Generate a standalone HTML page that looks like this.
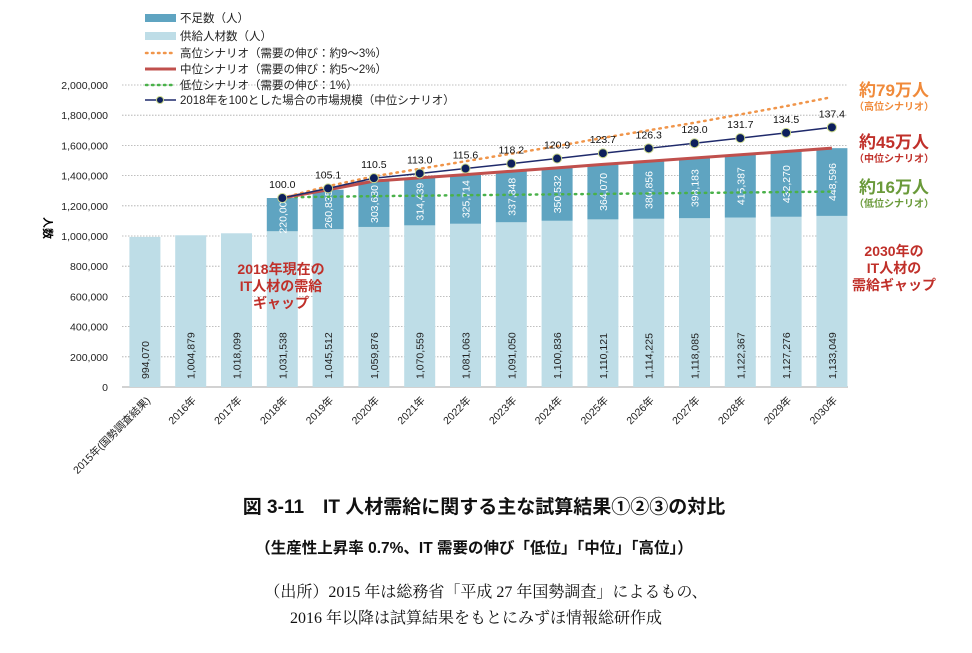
<!DOCTYPE html>
<html><head><meta charset="utf-8"><style>
body{margin:0;background:#fff;}
svg text{font-family:"Liberation Sans","Noto Sans CJK JP",sans-serif;}
</style></head><body>
<svg id="c" width="972" height="648" viewBox="0 0 972 648" xmlns="http://www.w3.org/2000/svg">
<g id="grid"></g><g id="bars"></g><g id="lines"></g><g id="axis"></g>
<g font-size="11.5" fill="#222">
<rect x="145" y="14" width="31" height="8" fill="#5fa4c1"/><text x="180" y="22">不足数（人）</text>
<rect x="145" y="32" width="31" height="8" fill="#bedde7"/><text x="180" y="40">供給人材数（人）</text>
<line x1="146" y1="53" x2="176" y2="53" stroke="#f0954a" stroke-width="2.5" stroke-dasharray="1.5 4.5" stroke-linecap="round"/><text x="180" y="57">高位シナリオ（需要の伸び：約9～3%）</text>
<line x1="145" y1="69" x2="176" y2="69" stroke="#c0504d" stroke-width="3"/><text x="180" y="73">中位シナリオ（需要の伸び：約5～2%）</text>
<line x1="146" y1="85" x2="176" y2="85" stroke="#4ab14a" stroke-width="2.5" stroke-dasharray="1.5 4.5" stroke-linecap="round"/><text x="180" y="89">低位シナリオ（需要の伸び：1%）</text>
<line x1="145" y1="100" x2="176" y2="100" stroke="#1f2a6b" stroke-width="1.5"/><circle cx="160" cy="100" r="3.5" fill="#0d1f5c" stroke="#c8d68a"/><text x="180" y="104">2018年を100とした場合の市場規模（中位シナリオ）</text>
</g>
<text x="44" y="228" font-size="11" font-weight="bold" text-anchor="middle" transform="rotate(90 44 228)">人数</text>
<g font-weight="bold" text-anchor="middle">
<text x="894" y="96" font-size="17" fill="#f08a3a">約79万人</text>
<text x="894" y="110" font-size="10" fill="#f08a3a">（高位シナリオ）</text>
<text x="894" y="148" font-size="17" fill="#c0302a">約45万人</text>
<text x="894" y="162" font-size="10" fill="#c0302a">（中位シナリオ）</text>
<text x="894" y="193" font-size="17" fill="#6a9a3a">約16万人</text>
<text x="894" y="207" font-size="10" fill="#6a9a3a">（低位シナリオ）</text>
<text x="894" y="256" font-size="14" fill="#c0302a">2030年の</text>
<text x="894" y="273" font-size="14" fill="#c0302a">IT人材の</text>
<text x="894" y="290" font-size="14" fill="#c0302a">需給ギャップ</text>
<text x="281" y="274" font-size="14" fill="#c0302a">2018年現在の</text>
<text x="281" y="291" font-size="14" fill="#c0302a">IT人材の需給</text>
<text x="281" y="308" font-size="14" fill="#c0302a">ギャップ</text>
</g>
<g text-anchor="middle" fill="#111">
<text x="484" y="513" font-size="19" font-weight="bold">図 3-11　IT 人材需給に関する主な試算結果①②③の対比</text>
<text x="474" y="553" font-size="15.5" font-weight="bold">（生産性上昇率 0.7%、IT 需要の伸び「低位」「中位」「高位」）</text>
<text x="486" y="597" font-size="16" style="font-family:'Liberation Serif','Noto Serif CJK SC',serif">（出所）2015 年は総務省「平成 27 年国勢調査」によるもの、</text>
<text x="476" y="623" font-size="16" style="font-family:'Liberation Serif','Noto Serif CJK SC',serif">2016 年以降は試算結果をもとにみずほ情報総研作成</text>
</g>
</svg>
<script>
const categories=["2015年(国勢調査結果)","2016年","2017年","2018年","2019年","2020年","2021年","2022年","2023年","2024年","2025年","2026年","2027年","2028年","2029年","2030年"];
const supply=[994070,1004879,1018099,1031538,1045512,1059876,1070559,1081063,1091050,1100836,1110121,1114225,1118085,1122367,1127276,1133049];
const shortage=[null,null,null,220000,260835,303680,314439,325714,337848,350532,364070,380856,398183,415387,432270,448596];
const marketIndex=[null,null,null,100.0,105.1,110.5,113.0,115.6,118.2,120.9,123.7,126.3,129.0,131.7,134.5,137.4];
const highDemand=[null,null,null,1251538,1330000,1395000,1445000,1495000,1545000,1595000,1650000,1700000,1750000,1805000,1860000,1920000];
const lowDemand=[null,null,null,1256000,1260000,1264000,1267000,1270000,1273000,1276000,1279000,1282000,1285000,1288000,1291000,1294000];
const yTicks=[0,200000,400000,600000,800000,1000000,1200000,1400000,1600000,1800000,2000000];
const NS="http://www.w3.org/2000/svg";
const X0=122,STEP=45.8,Y0=387,YH=302,YMAX=2000000,BW=31;
const xc=i=>X0+STEP/2+i*STEP;
const y=v=>Y0-v/YMAX*YH;
const fmt=v=>v.toLocaleString('en-US');
const G=id=>document.getElementById(id);
yTicks.forEach(t=>{
 const l=document.createElementNS(NS,'line');
 
 
 l.setAttribute('x1',X0);l.setAttribute('x2',848);l.setAttribute('y1',y(t));l.setAttribute('y2',y(t));
 l.setAttribute('stroke',t===0?'#888':'#aaa');if(t!==0)l.setAttribute('stroke-dasharray','1.5 1.5');l.setAttribute('stroke-width','0.8');
 G('grid').appendChild(l);
 const tx=document.createElementNS(NS,'text');
 
 
 tx.setAttribute('x',X0-14);tx.setAttribute('y',y(t)+4);tx.setAttribute('text-anchor','end');tx.setAttribute('font-size','10.5');tx.setAttribute('fill','#222');
 tx.textContent=fmt(t);G('axis').appendChild(tx);
});
categories.forEach((c,i)=>{
 const x=xc(i);
 const r=document.createElementNS(NS,'rect');
 
 
 r.setAttribute('x',x-BW/2);r.setAttribute('width',BW);r.setAttribute('y',y(supply[i]));r.setAttribute('height',Y0-y(supply[i]));r.setAttribute('fill','#bedde7');
 G('bars').appendChild(r);
 const st=document.createElementNS(NS,'text');
 
 
 st.setAttribute('transform',`translate(${x+4},${Y0-8}) rotate(-90)`);st.setAttribute('font-size','10.5');st.setAttribute('fill','#222');
 st.textContent=fmt(supply[i]);G('bars').appendChild(st);
 if(shortage[i]!=null){
  const top=supply[i]+shortage[i];
  const s=document.createElementNS(NS,'rect');
  
  
  s.setAttribute('x',x-BW/2);s.setAttribute('width',BW);s.setAttribute('y',y(top));s.setAttribute('height',y(supply[i])-y(top));s.setAttribute('fill','#5fa4c1');
  G('bars').appendChild(s);
  const v=document.createElementNS(NS,'text');
  
  
  const mid=(y(top)+y(supply[i]))/2;
  v.setAttribute('transform',`translate(${x+4},${mid}) rotate(-90)`);v.setAttribute('font-size','10.5');v.setAttribute('fill','#fff');v.setAttribute('text-anchor','middle');
  v.textContent=fmt(shortage[i]);G('bars').appendChild(v);
 }
 const lb=document.createElementNS(NS,'text');
 
 
 lb.setAttribute('transform',`translate(${x+6},${Y0+14}) rotate(-45)`);lb.setAttribute('text-anchor','end');lb.setAttribute('font-size','10.5');lb.setAttribute('fill','#222');
 lb.textContent=c;G('axis').appendChild(lb);
});
function poly(vals,name,attrs){
 const pts=[];vals.forEach((v,i)=>{if(v!=null)pts.push(xc(i)+','+y(v));});
 const p=document.createElementNS(NS,'polyline');
 
 
 p.setAttribute('points',pts.join(' '));p.setAttribute('fill','none');
 for(const k in attrs)p.setAttribute(k,attrs[k]);
 G('lines').appendChild(p);
}
const midDemand=supply.map((s,i)=>shortage[i]==null?null:s+shortage[i]);
poly(lowDemand,'low-scenario-line',{stroke:'#4ab14a','stroke-width':2.5,'stroke-dasharray':'1.5 5','stroke-linecap':'round'});
poly(midDemand,'mid-scenario-line',{stroke:'#c0504d','stroke-width':3});
poly(highDemand,'high-scenario-line',{stroke:'#f0954a','stroke-width':2.5,'stroke-dasharray':'1.5 5','stroke-linecap':'round'});
const base=midDemand[3];
const mv=marketIndex.map(v=>v==null?null:v/100*base);
poly(mv,'market-size-line',{stroke:'#1f2a6b','stroke-width':1.5});
marketIndex.forEach((v,i)=>{
 if(v==null)return;
 const c=document.createElementNS(NS,'circle');
 
 
 c.setAttribute('cx',xc(i));c.setAttribute('cy',y(mv[i]));c.setAttribute('r',4.5);c.setAttribute('fill','#0d1f5c');c.setAttribute('stroke','#c8d68a');
 G('lines').appendChild(c);
 const t=document.createElementNS(NS,'text');
 
 
 t.setAttribute('x',xc(i));t.setAttribute('y',y(mv[i])-10);t.setAttribute('text-anchor','middle');t.setAttribute('font-size','10.5');t.setAttribute('fill','#111');
 t.textContent=v.toFixed(1);G('lines').appendChild(t);
});
</script>
</body></html>
